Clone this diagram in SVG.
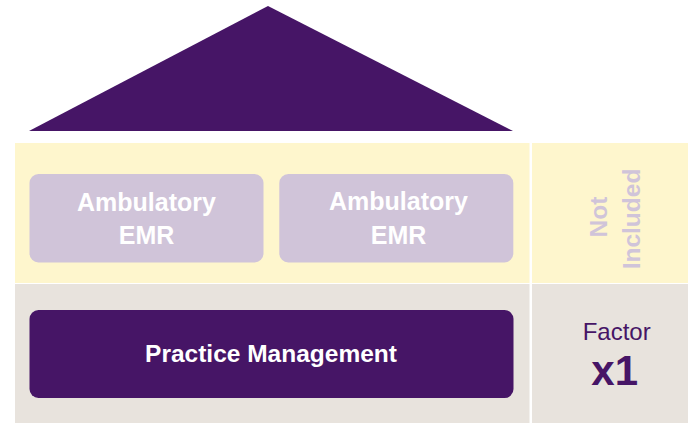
<svg xmlns="http://www.w3.org/2000/svg" width="688" height="423" viewBox="0 0 688 423">
  <style>
    .lbl { font-family: "Liberation Sans", Arial, sans-serif; font-weight: bold; text-anchor: middle; }
    .white { fill: #ffffff; }
    .lav { fill: #d0c4d9; }
    .purple { fill: #461566; }
  </style>
  <rect width="688" height="423" fill="#ffffff"/>
  <g id="roof">
    <polygon points="268,6 513,131 29,131" class="purple"/>
  </g>
  <g id="bands">
    <rect x="15" y="143" width="514.5" height="140" fill="#fef6cd"/>
    <rect x="532" y="143" width="156" height="140" fill="#fef6cd"/>
    <rect x="15" y="284" width="514.5" height="139" fill="#e8e3dd"/>
    <rect x="532" y="284" width="156" height="139" fill="#e8e3dd"/>
  </g>
  <g id="ambulatory-emr-1">
    <rect x="29.5" y="174" width="234" height="88.5" rx="9" class="lav"/>
    <text class="lbl white" font-size="25" x="146.5" y="211">Ambulatory</text>
    <text class="lbl white" font-size="25" x="146.5" y="244">EMR</text>
  </g>
  <g id="ambulatory-emr-2">
    <rect x="279.3" y="174" width="234" height="88.5" rx="9" class="lav"/>
    <text class="lbl white" font-size="25" x="398.5" y="210">Ambulatory</text>
    <text class="lbl white" font-size="25" x="398.5" y="244">EMR</text>
  </g>
  <g id="not-included">
    <g transform="translate(0,218) rotate(-90)">
      <text class="lbl lav" font-size="24.5" x="1" y="607">Not</text>
      <text class="lbl lav" font-size="24.5" x="-1" y="640">Included</text>
    </g>
  </g>
  <g id="practice-management">
    <rect x="29.5" y="310" width="484" height="88" rx="9" class="purple"/>
    <text class="lbl white" font-size="24.5" x="271" y="362">Practice Management</text>
  </g>
  <g id="factor">
    <text font-family="'Liberation Sans', Arial, sans-serif" font-size="24" text-anchor="middle" x="616.7" y="339.5" class="purple">Factor</text>
    <text class="lbl purple" font-size="42" x="614.7" y="385">x1</text>
  </g>
  <g id="connectors"></g>
</svg>
